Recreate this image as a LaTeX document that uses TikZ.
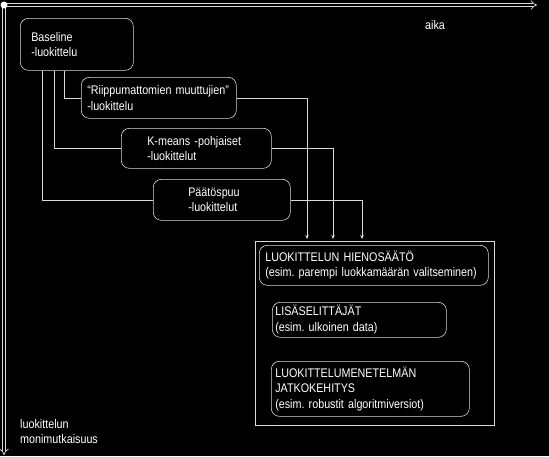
\documentclass[tikz,border=0pt]{standalone}
\usepackage{fontspec}
\setmainfont[FakeStretch=0.86]{Liberation Sans}
\usetikzlibrary{arrows.meta}

\begin{document}
\frenchspacing
\begin{tikzpicture}[x=1pt, y=-1pt, font=\fontsize{12.5}{15.5}\selectfont]
\tikzstyle{box}=[rectangle, rounded corners=8pt, draw=gray!30, line width=0.6pt, anchor=north west, align=left, text=white, inner ysep=2pt]
\tikzstyle{label}=[text=white, align=left, anchor=north west, inner sep=0pt]
\tikzstyle{axis}=[draw=gray!30, line width=0.7pt, double=black, double distance=2.6pt, -{Implies}]
\tikzstyle{drawstyle}=[draw=gray!30, line width=0.6pt, -{Stealth[length=4pt, width=3.5pt]}]
\tikzstyle{link}=[draw=gray!30, line width=0.6pt]

\fill[black] (0,0) rectangle (549,456);
\useasboundingbox (0,0) rectangle (549,456);

% axes
\coordinate (origin) at (4,5);
\coordinate (tend) at (537,5);
\coordinate (cend) at (4,455);
\draw[axis] (origin) -- (tend);
\draw[axis] (origin) -- (cend);
\node[circle, fill=white, inner sep=0pt, minimum size=7pt] (dot) at (origin) {};
\node[label] (aika) at (425,20) {aika};
\node[label] (monim) at (20,419) {luokittelun\\monimutkaisuus};

% classifiers
\node[box, minimum height=52pt, text width=91pt, inner xsep=11pt] (base) at (20,18) {Baseline\\-luokittelu};
\node[box, minimum height=41pt, text width=143pt, inner xsep=6pt] (riip) at (81,77) {``Riippumattomien muuttujien''\\-luokittelu};
\node[box, minimum height=40pt, text width=98pt, inner xsep=26pt] (kmeans) at (121,128) {K-means -pohjaiset\\-luokittelut};
\node[box, minimum height=41pt, text width=67pt, inner xsep=35pt] (paatos) at (153,179) {Päätöspuu\\-luokittelut};

% further development
\draw[link] (255,241) rectangle (494,425);
\coordinate (outer) at (255,241);
\node[box, minimum height=40pt, text width=217pt, inner xsep=6pt] (hieno) at (259,245) {LUOKITTELUN HIENOSÄÄTÖ\\(esim. parempi luokkamäärän valitseminen)};
\node[box, minimum height=35pt, text width=168pt, inner xsep=3pt] (lisa) at (272,302) {LISÄSELITTÄJÄT\\(esim. ulkoinen data)};
\node[box, minimum height=55pt, text width=190pt, inner xsep=4pt] (jatko) at (271,361) {LUOKITTELUMENETELMÄN\\JATKOKEHITYS\\(esim. robustit algoritmiversiot)};

\draw[link] ([xshift=44pt]base.south west) |- (riip.west);
\draw[link] ([xshift=34pt]base.south west) |- (kmeans.west);
\draw[link] ([xshift=22pt]base.south west) |- (paatos.west);
\draw[drawstyle] (riip.east) -| ([xshift=52pt, yshift=2pt]outer);
\draw[drawstyle] (kmeans.east) -| ([xshift=78pt, yshift=2pt]outer);
\draw[drawstyle] (paatos.east) -| ([xshift=107pt, yshift=2pt]outer);
\end{tikzpicture}
\end{document}
